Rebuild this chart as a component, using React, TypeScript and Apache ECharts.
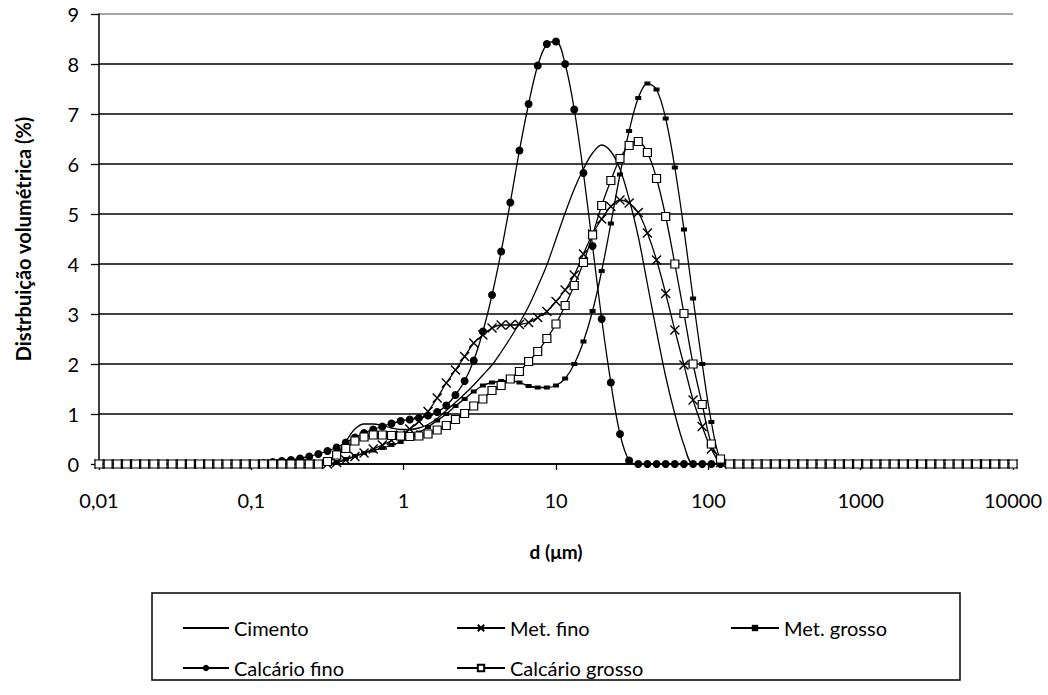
import React, { useEffect, useRef } from "react";
import * as echarts from "echarts";

// particle size classes (µm)
const sizes = [
  0.01, 0.01148, 0.01318, 0.01514, 0.01738, 0.01995, 0.02291, 0.0263, 0.0302, 0.03467,
  0.03981, 0.04571, 0.05248, 0.06026, 0.06918, 0.07943, 0.0912, 0.1047, 0.1202, 0.138,
  0.1585, 0.182, 0.2089, 0.2399, 0.2754, 0.3162, 0.3631, 0.4169, 0.4786, 0.5495,
  0.631, 0.7244, 0.8318, 0.955, 1.096, 1.259, 1.445, 1.66, 1.905, 2.188,
  2.512, 2.884, 3.311, 3.802, 4.365, 5.012, 5.754, 6.607, 7.586, 8.71,
  10, 11.48, 13.18, 15.14, 17.38, 19.95, 22.91, 26.3, 30.2, 34.67,
  39.81, 45.71, 52.48, 60.26, 69.18, 79.43, 91.2, 104.7, 120.2, 138,
  158.5, 182, 208.9, 239.9, 275.4, 316.2, 363.1, 416.9, 478.6, 549.5,
  631, 724.4, 831.8, 955, 1096, 1259, 1445, 1660, 1905, 2188,
  2512, 2884, 3311, 3802, 4365, 5012, 5754, 6607, 7586, 8710,
  10000,
];

const cimento = [
  0, 0, 0, 0, 0, 0, 0, 0, 0, 0,
  0, 0, 0, 0, 0, 0, 0, 0, 0, 0,
  0, 0, 0, 0, 0, 0.02, 0.18, 0.45, 0.7, 0.8,
  0.8, 0.77, 0.72, 0.69, 0.69, 0.72, 0.79, 0.91, 1.07, 1.23,
  1.4, 1.58, 1.78, 1.98, 2.24, 2.52, 2.82, 3.15, 3.55, 3.98,
  4.5, 5.02, 5.5, 5.9, 6.22, 6.38, 6.25, 5.9, 5.3, 4.55,
  3.6, 2.65, 1.75, 1.0, 0.38, 0, 0, 0, 0, 0,
  0, 0, 0, 0, 0, 0, 0, 0, 0, 0,
  0, 0, 0, 0, 0, 0, 0, 0, 0, 0,
  0, 0, 0, 0, 0, 0, 0, 0, 0, 0,
  0,
];

const metFino = [
  0, 0, 0, 0, 0, 0, 0, 0, 0, 0,
  0, 0, 0, 0, 0, 0, 0, 0, 0, 0,
  0, 0, 0, 0, 0, 0, 0.03, 0.08, 0.15, 0.22,
  0.3, 0.38, 0.47, 0.58, 0.7, 0.85, 1.05, 1.32, 1.62, 1.88,
  2.15, 2.42, 2.58, 2.72, 2.78, 2.78, 2.79, 2.83, 2.93, 3.05,
  3.25, 3.48, 3.78, 4.2, 4.6, 4.9, 5.15, 5.28, 5.22, 5.03,
  4.62, 4.08, 3.41, 2.68, 1.98, 1.28, 0.75, 0.3, 0.03, 0,
  0, 0, 0, 0, 0, 0, 0, 0, 0, 0,
  0, 0, 0, 0, 0, 0, 0, 0, 0, 0,
  0, 0, 0, 0, 0, 0, 0, 0, 0, 0,
  0,
];

const metGrosso = [
  0, 0, 0, 0, 0, 0, 0, 0, 0, 0,
  0, 0, 0, 0, 0, 0, 0, 0, 0, 0,
  0, 0, 0, 0, 0, 0, 0.04, 0.1, 0.16, 0.22,
  0.27, 0.32, 0.38, 0.44, 0.53, 0.63, 0.74, 0.87, 1.0, 1.16,
  1.3, 1.45, 1.57, 1.63, 1.66, 1.67, 1.63, 1.56, 1.53, 1.53,
  1.57, 1.71, 2.0, 2.45, 3.06, 3.86, 4.81, 5.79, 6.66, 7.32,
  7.61, 7.49, 6.91, 5.93, 4.69, 3.31, 2.0, 0.84, 0.08, 0,
  0, 0, 0, 0, 0, 0, 0, 0, 0, 0,
  0, 0, 0, 0, 0, 0, 0, 0, 0, 0,
  0, 0, 0, 0, 0, 0, 0, 0, 0, 0,
  0,
];

const calcarioFino = [
  0, 0, 0, 0, 0, 0, 0, 0, 0, 0,
  0, 0, 0, 0, 0, 0, 0, 0, 0.02, 0.04,
  0.06, 0.08, 0.11, 0.15, 0.2, 0.26, 0.33, 0.43, 0.53, 0.62,
  0.69, 0.75, 0.81, 0.86, 0.89, 0.92, 0.97, 1.04, 1.17, 1.38,
  1.66, 2.07, 2.65, 3.38, 4.25, 5.23, 6.27, 7.2, 7.97, 8.4,
  8.45, 8.0, 7.09, 5.82, 4.36, 2.9, 1.63, 0.6, 0.07, 0,
  0, 0, 0, 0, 0, 0, 0, 0, 0, 0,
  0, 0, 0, 0, 0, 0, 0, 0, 0, 0,
  0, 0, 0, 0, 0, 0, 0, 0, 0, 0,
  0, 0, 0, 0, 0, 0, 0, 0, 0, 0,
  0,
];

const calcarioGrosso = [
  0, 0, 0, 0, 0, 0, 0, 0, 0, 0,
  0, 0, 0, 0, 0, 0, 0, 0, 0, 0,
  0, 0, 0, 0, 0, 0.05, 0.18, 0.31, 0.46, 0.54,
  0.58, 0.58, 0.57, 0.56, 0.55, 0.56, 0.6, 0.68, 0.77, 0.89,
  1.01, 1.16, 1.3, 1.47, 1.57, 1.7, 1.85, 2.05, 2.25, 2.51,
  2.8, 3.17, 3.57, 4.03, 4.58, 5.17, 5.67, 6.11, 6.37, 6.45,
  6.23, 5.71, 4.95, 4.0, 3.01, 2.0, 1.19, 0.4, 0.1, 0,
  0, 0, 0, 0, 0, 0, 0, 0, 0, 0,
  0, 0, 0, 0, 0, 0, 0, 0, 0, 0,
  0, 0, 0, 0, 0, 0, 0, 0, 0, 0,
  0,
];

const seriesNames = ["Cimento", "Met. fino", "Met. grosso", "Calcário fino", "Calcário grosso"];
const yMin = 0;
const yMax = 9;
const xMin = 0.01;
const xMax = 10000;

const FONT = "Lato, 'Noto Sans', sans-serif";
const X_SYMBOL = "path://M0,0L10,10M10,0L0,10";

export default function App() {
  const ref = useRef<HTMLDivElement>(null);

  useEffect(() => {
    if (!ref.current) return;
    const chart = echarts.init(ref.current, undefined, { renderer: "svg" });
    const pairs = (vals: number[]) => sizes.map((d, i) => [d, vals[i]]);
    const baseLine = { color: "#000", width: 1.3 };
    const common = {
      type: "line",
      smooth: 0.35,
      showSymbol: true,
      showAllSymbol: true,
      lineStyle: baseLine,
      emphasis: { disabled: true },
    };
    const splitColors = Array.from({ length: 10 }, (_, i) => (i === 9 ? "#8a8a8a" : "#000"));
    const legendBase = {
      orient: "vertical",
      top: 616,
      height: 78,
      padding: 0,
      itemHeight: 8,
      itemGap: 16,
      textStyle: { fontSize: 20, lineHeight: 24, color: "#000", fontFamily: FONT },
      selectedMode: false,
    };

    chart.setOption({
      animation: false,
      textStyle: { fontFamily: FONT, color: "#000" },
      grid: { left: 99, right: 35, top: 14, bottom: 231, containLabel: false },
      xAxis: {
        type: "log",
        logBase: 10,
        min: xMin,
        max: xMax,
        name: "d (μm)",
        nameLocation: "middle",
        nameGap: 78,
        nameTextStyle: { fontFamily: FONT, fontWeight: "bold", fontSize: 19, color: "#000" },
        axisLine: { show: true, lineStyle: { color: "#000", width: 1.5 } },
        axisTick: { show: true, inside: false, length: 6, lineStyle: { color: "#000", width: 1.3 } },
        minorTick: { show: false },
        axisLabel: {
          margin: 26,
          fontSize: 20,
          color: "#000",
          fontFamily: FONT,
          formatter: (v: number) => String(Number(v.toPrecision(4))).replace(".", ","),
        },
        splitLine: { show: false },
      },
      yAxis: {
        type: "value",
        min: yMin,
        max: yMax,
        interval: 1,
        name: "Distrbuição volumétrica (%)",
        nameLocation: "middle",
        nameRotate: 90,
        nameGap: 66,
        nameTextStyle: { fontFamily: FONT, fontWeight: "bold", fontSize: 20, color: "#000" },
        axisLine: { show: true, lineStyle: { color: "#000", width: 1.5 } },
        axisTick: { show: true, inside: false, length: 8, lineStyle: { color: "#000", width: 1.3 } },
        axisLabel: { margin: 20, fontSize: 20, color: "#000", fontFamily: FONT },
        splitLine: { show: true, lineStyle: { color: splitColors, width: 1.6 } },
      },
      legend: [
        {
          ...legendBase,
          data: [{ name: seriesNames[0], itemStyle: { opacity: 0 } }, seriesNames[3]],
          left: 182,
          itemWidth: 46,
        },
        {
          ...legendBase,
          data: [seriesNames[1], seriesNames[4]],
          left: 456,
          itemWidth: 48,
        },
        {
          ...legendBase,
          data: [seriesNames[2]],
          left: 730,
          itemWidth: 48,
        },
      ],
      graphic: [
        {
          type: "rect",
          shape: { x: 152, y: 593, width: 808, height: 87 },
          style: { fill: "none", stroke: "#000", lineWidth: 1.5 },
          silent: true,
        },
      ],
      series: [
        {
          ...common,
          name: seriesNames[0],
          symbol: "none",
          itemStyle: { color: "#000" },
          data: pairs(cimento),
          z: 2,
        },
        {
          ...common,
          name: seriesNames[1],
          symbol: X_SYMBOL,
          symbolSize: 9,
          itemStyle: { color: "none", borderColor: "#000", borderWidth: 1.4 },
          data: pairs(metFino),
          z: 3,
        },
        {
          ...common,
          name: seriesNames[2],
          symbol: "rect",
          symbolSize: [6, 4],
          itemStyle: { color: "#000", borderWidth: 0 },
          data: pairs(metGrosso),
          z: 4,
        },
        {
          ...common,
          name: seriesNames[3],
          symbol: "circle",
          symbolSize: 8,
          itemStyle: { color: "#000", borderWidth: 0 },
          data: pairs(calcarioFino),
          z: 5,
        },
        {
          ...common,
          name: seriesNames[4],
          symbol: "rect",
          symbolSize: 8,
          itemStyle: { color: "#fff", borderColor: "#000", borderWidth: 1.2 },
          data: pairs(calcarioGrosso),
          z: 6,
        },
      ],
    });

    return () => chart.dispose();
  }, []);

  return (
    <div
      ref={ref}
      style={{ position: "fixed", left: 0, top: 0, width: 1048, height: 695, background: "#fff" }}
    />
  );
}
